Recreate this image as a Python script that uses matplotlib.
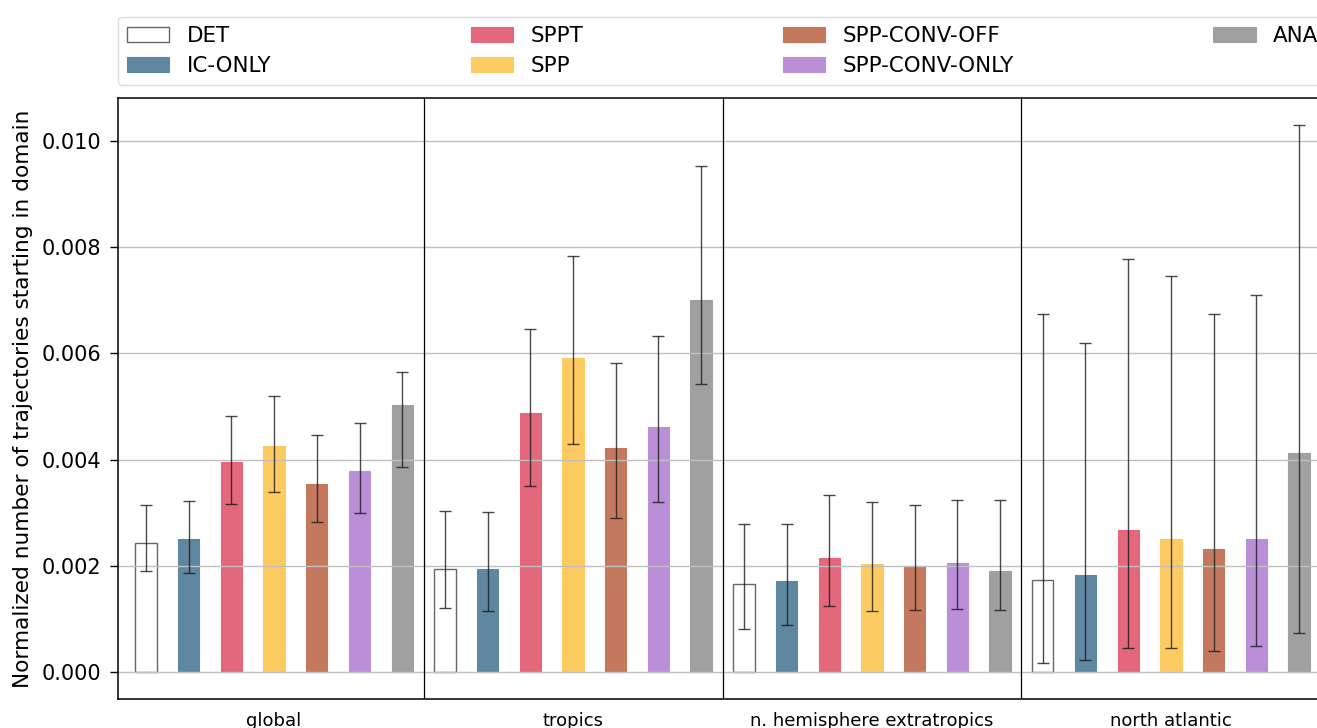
import matplotlib
matplotlib.use("Agg")
import matplotlib.pyplot as plt
import numpy as np

regions = ["global", "tropics", "n. hemisphere extratropics", "north atlantic"]
experiments = ["DET", "IC-ONLY", "SPPT", "SPP", "SPP-CONV-OFF", "SPP-CONV-ONLY", "ANA"]
colors = ["#ffffff", "#5f87a0", "#e3687b", "#fecb62", "#c4785d", "#bb8fd8", "#a0a0a0"]

# values per experiment, ordered by region (global, tropics, nh extratropics, north atlantic)
means = {
    "DET":           [0.00244, 0.00194, 0.00167, 0.00173],
    "IC-ONLY":       [0.00250, 0.00194, 0.00171, 0.00184],
    "SPPT":          [0.00396, 0.00487, 0.00216, 0.00268],
    "SPP":           [0.00425, 0.00591, 0.00203, 0.00250],
    "SPP-CONV-OFF":  [0.00354, 0.00421, 0.00201, 0.00232],
    "SPP-CONV-ONLY": [0.00379, 0.00461, 0.00206, 0.00250],
    "ANA":           [0.00502, 0.00700, 0.00191, 0.00413],
}
upper = {
    "DET":           [0.00314, 0.00304, 0.00279, 0.00674],
    "IC-ONLY":       [0.00323, 0.00302, 0.00279, 0.00620],
    "SPPT":          [0.00482, 0.00645, 0.00334, 0.00777],
    "SPP":           [0.00520, 0.00783, 0.00320, 0.00745],
    "SPP-CONV-OFF":  [0.00446, 0.00581, 0.00315, 0.00674],
    "SPP-CONV-ONLY": [0.00469, 0.00633, 0.00324, 0.00709],
    "ANA":           [0.00565, 0.00953, 0.00325, 0.01030],
}
lower = {
    "DET":           [0.00191, 0.00121, 0.00082, 0.00018],
    "IC-ONLY":       [0.00187, 0.00115, 0.00090, 0.00023],
    "SPPT":          [0.00317, 0.00350, 0.00124, 0.00045],
    "SPP":           [0.00339, 0.00430, 0.00115, 0.00045],
    "SPP-CONV-OFF":  [0.00282, 0.00291, 0.00117, 0.00040],
    "SPP-CONV-ONLY": [0.00299, 0.00321, 0.00119, 0.00049],
    "ANA":           [0.00387, 0.00542, 0.00118, 0.00075],
}

W, H, DPI = 1317, 728, 100
fig = plt.figure(figsize=(W / DPI, H / DPI), dpi=DPI)
ax = fig.add_axes([118 / W, 1 - 699 / H, (1327 - 118) / W, (699 - 98) / H])

n_exp = len(experiments)
n_reg = len(regions)
for j, exp in enumerate(experiments):
    x = np.arange(n_reg) * n_exp + j
    m = np.array(means[exp])
    lo = m - np.array(lower[exp])
    hi = np.array(upper[exp]) - m
    if exp == "DET":
        ax.bar(x, m, width=0.5, color="white", edgecolor="#666666", linewidth=1.0, label=exp)
    else:
        ax.bar(x, m, width=0.5, color=colors[j], edgecolor=colors[j], linewidth=0.8, label=exp)
    ax.errorbar(x, m, yerr=[lo, hi], fmt="none", ecolor="#1a1a1a", alpha=0.8,
                elinewidth=1.0, capsize=4, capthick=1.0)

for k in range(1, n_reg):
    ax.axvline(k * n_exp - 0.5, color="black", linewidth=0.9)

ax.set_xlim(-0.656, n_reg * n_exp - 1 + 0.656)
ax.set_ylim(-0.0005, 0.0108)
ax.set_yticks(np.arange(0, 0.0101, 0.002))
ax.set_yticklabels([f"{v:.3f}" for v in np.arange(0, 0.0101, 0.002)], fontsize=15)
ax.set_xticks(np.arange(n_reg) * n_exp + (n_exp - 1) / 2)
ax.set_xticklabels(regions, fontsize=13)
ax.tick_params(axis="x", length=0, pad=9)
ax.tick_params(axis="y", length=6, width=1, pad=6)
ax.yaxis.grid(True, color="#c0c0c0", linewidth=1.0)
ax.set_ylabel("Normalized number of trajectories starting in domain", fontsize=15.6)
ax.yaxis.set_label_coords(-0.07, 0.5)
for s in ax.spines.values():
    s.set_linewidth(1.1)

ax.legend(loc="lower left", bbox_to_anchor=(0, 1.022, 1, 0.1), mode="expand", ncol=4,
          borderaxespad=0, fontsize=15.4, frameon=True, edgecolor="#d5d5d5")

fig.savefig("out.png", dpi=DPI)
